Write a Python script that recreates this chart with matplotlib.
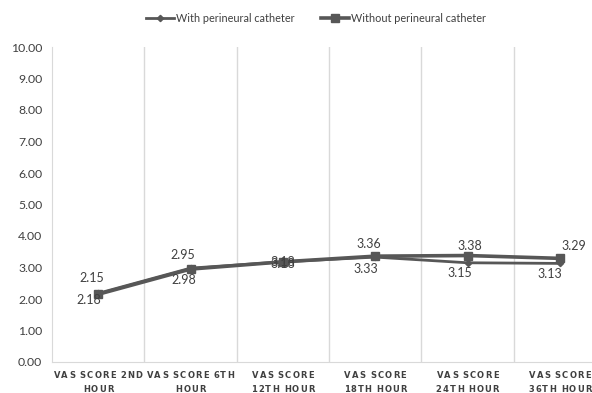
import matplotlib
matplotlib.use("Agg")
import matplotlib.pyplot as plt
from matplotlib.lines import Line2D
from matplotlib.font_manager import FontProperties

categories = ["VAS SCORE 2ND\nHOUR", "VAS SCORE 6TH\nHOUR", "VAS SCORE\n12TH HOUR",
              "VAS SCORE\n18TH HOUR", "VAS SCORE\n24TH HOUR", "VAS SCORE\n36TH HOUR"]
with_catheter = [2.18, 2.98, 3.18, 3.33, 3.15, 3.13]
without_catheter = [2.15, 2.95, 3.18, 3.36, 3.38, 3.29]
y_ticks = [0, 1, 2, 3, 4, 5, 6, 7, 8, 9, 10]

# label offsets in pixels (dx, dy), dy positive = upwards
with_offsets = [(-9, -7), (-7, -12), (0, -2), (-9, -12), (-8, -10), (-10, -11)]
without_offsets = [(-6, 16), (-8, 14), (0, 0), (-6, 12), (2, 10), (14, 12)]

plt.rcParams['font.family'] = ['Lato', 'DejaVu Sans']
text_color = "#404040"
line_color = "#575757"
grid_color = "#d9d9d9"

W, H = 592, 393
fig = plt.figure(figsize=(W / 100, H / 100), dpi=100)
ax = fig.add_axes([52 / W, 1 - 362 / H, 554 / W, (362 - 47) / H])

x = list(range(len(categories)))
ax.plot(x, without_catheter, color=line_color, lw=2.6, marker="s", ms=6, zorder=3)
ax.plot(x, with_catheter, color=line_color, lw=2.0, marker="D", ms=3.2, zorder=4)

ax.set_xlim(-0.5, len(categories) - 0.5)
ax.set_ylim(0, 10)
ax.set_yticks(y_ticks)
ax.set_yticklabels([f"{v:.2f}" for v in y_ticks], fontsize=8.8, color=text_color)

# category boundary grid lines
for b in range(1, len(categories)):
    ax.axvline(b - 0.5, color=grid_color, lw=1, zorder=1)

ax.set_xticks(x)
ax.set_xticklabels([])
ax.tick_params(axis="y", length=0, pad=7)
ax.tick_params(axis="x", length=0)

for s in ["top", "right"]:
    ax.spines[s].set_visible(False)
ax.spines["left"].set_color(grid_color)
ax.spines["bottom"].set_color(grid_color)

# category labels: spaced capitals, drawn letter by letter
renderer = fig.canvas.get_renderer()
cat_font = FontProperties(family="DejaVu Sans", weight="bold", size=6.0)
space_px = 2.2


def char_width(ch):
    if ch == " ":
        return space_px
    return renderer.get_text_width_height_descent(ch, cat_font, False)[0]


ref_word = "VAS SCORE"
tracking = (62 - sum(char_width(c) for c in ref_word)) / (len(ref_word) - 1)
line_y = [376, 389]
for i, label in enumerate(categories):
    cx = ax.transData.transform((i, 0))[0]
    for row, line in enumerate(label.split("\n")):
        widths = [char_width(ch) for ch in line]
        total = sum(widths) + tracking * (len(line) - 1)
        xpos = cx - total / 2
        for ch, w_ch in zip(line, widths):
            if ch != " ":
                fig.text(xpos / W, 1 - line_y[row] / H, ch, fontproperties=cat_font,
                         color=text_color, ha="left", va="center")
            xpos += w_ch + tracking

px = 72 / 100
for i, (w, wo) in enumerate(zip(with_catheter, without_catheter)):
    dx, dy = with_offsets[i]
    ax.annotate(f"{w:.2f}", (i, w), xytext=(dx * px, dy * px), textcoords="offset points",
                ha="center", va="center", fontsize=9, color=text_color, zorder=5)
    dx, dy = without_offsets[i]
    ax.annotate(f"{wo:.2f}", (i, wo), xytext=(dx * px, dy * px), textcoords="offset points",
                ha="center", va="center", fontsize=9, color=text_color, zorder=5)

handles = [
    Line2D([], [], color=line_color, lw=2.0, marker="D", ms=3.2),
    Line2D([], [], color=line_color, lw=2.6, marker="s", ms=5.5),
]
fig.legend(handles, ["With perineural catheter", "Without perineural catheter"],
           loc="center", bbox_to_anchor=(316 / W, 1 - 18 / H), ncol=2, frameon=False,
           fontsize=7.8, handlelength=2.6, handletextpad=0.2, columnspacing=2.4,
           labelcolor=text_color)

fig.savefig("out.png", dpi=100, facecolor="white")
